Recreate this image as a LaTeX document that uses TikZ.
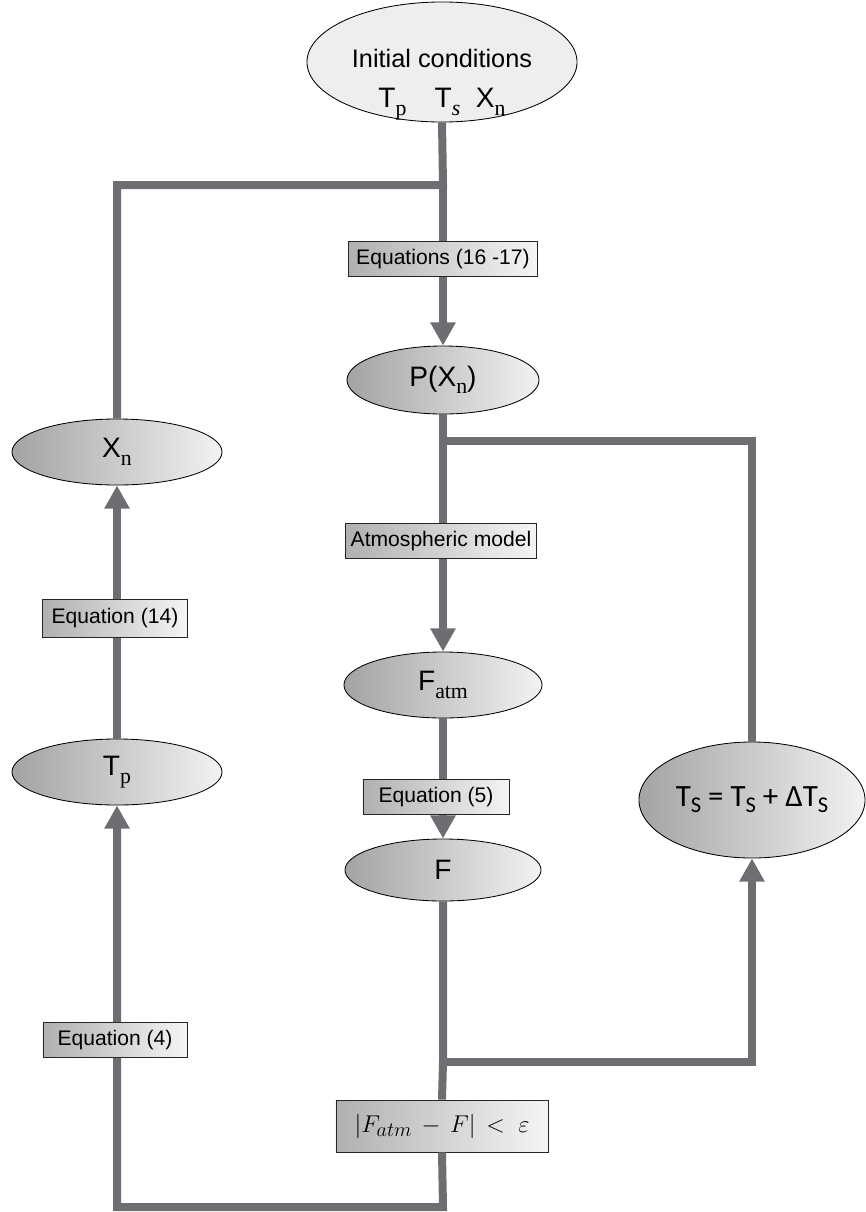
\documentclass[tikz,border=0pt]{standalone}
\usepackage{fontspec}
\setmainfont{Liberation Sans}
\newfontfamily\subfont{Liberation Serif}
\newfontfamily\calfont{Carlito}
\usetikzlibrary{shapes.geometric,arrows.meta}
\definecolor{flowgray}{RGB}{110,110,114}
\newcommand\lowidx[1]{\raisebox{-0.27em}{\subfont\fontsize{15.5}{16}\selectfont #1}}
\newcommand\calidx[1]{\raisebox{-0.2em}{\fontsize{16}{16}\selectfont #1}}
\tikzset{
  oval/.style={ellipse, draw=black, line width=0.6pt, left color=gray!72, right color=gray!10,
    inner sep=0pt, font=\fontsize{20}{24}\selectfont},
  eqbox/.style={rectangle, draw=black!85, line width=0.6pt, left color=gray!62, right color=gray!8,
    minimum height=0.87cm, inner xsep=4pt, font=\fontsize{15}{18}\selectfont},
  flow/.style={draw=flowgray, line width=0.2cm, line join=miter},
  flowarrow/.style={flow, -{Triangle[length=0.58cm,width=0.6cm]}}
}
\begin{document}
\begin{tikzpicture}[x=0.025cm,y=-0.025cm]
      \useasboundingbox (0,0) rectangle (866,1212);

      \node[ellipse, draw=black, line width=0.6pt, fill=gray!13, minimum width=6.75cm, minimum height=3cm,
        inner sep=0pt, font=\fontsize{18}{30}\selectfont] (init) at (442,62)
        {\smash{\raisebox{-0.58cm}{\begin{tabular}{@{}c@{}}Initial conditions\\[-1pt]
          {\fontsize{20}{24}\selectfont T\lowidx{p}\quad T\lowidx{\itshape s}\ \ X\lowidx{n}}\end{tabular}}}};
      \node[oval, minimum width=4.8cm, minimum height=1.7cm] (pxn) at (443,380) {P(X\lowidx{n})};
      \node[oval, minimum width=5.25cm, minimum height=1.65cm] (xn) at (117,452) {X\lowidx{n}};
      \node[oval, minimum width=4.95cm, minimum height=1.65cm] (fatm) at (443,685) {F\lowidx{atm}};
      \node[oval, minimum width=5.25cm, minimum height=1.65cm] (tp) at (117,772) {T\lowidx{p}};
      \node[oval, minimum width=4.9cm, minimum height=1.55cm] (f) at (443,870) {F};
      \node[oval, minimum width=5.65cm, minimum height=2.9cm, font=\calfont\fontsize{22}{26}\selectfont] (ts) at (752,800)
        {T\calidx{S} =\ T\calidx{S} + ΔT\calidx{S}};
      \node[eqbox, minimum width=5.3cm, minimum height=1.3cm, font=\fontsize{19}{23}\selectfont] (cond) at (442,1126)
        {$|F_{atm}\,-\,F|\,<\;\varepsilon$};

      \coordinate (top-split) at (443,185);
      \coordinate (top-left) at (117,185);
      \coordinate (mid-split) at (443,441);
      \coordinate (mid-right) at (752,441);
      \coordinate (low-split) at (443,1062);
      \coordinate (low-right) at (752,1062);
      \coordinate (bot-mid) at (443,1207);
      \coordinate (bot-left) at (117,1207);

      \draw[flow] (init.south) -- (top-split) -- (top-left) -- (xn.north);
      \draw[flowarrow] (top-split) -- (pxn.north);
      \draw[flow] (pxn.south) -- (mid-split) -- (mid-right) -- (ts.north);
      \draw[flowarrow] (mid-split) -- (fatm.north);
      \draw[flowarrow] (fatm.south) -- (f.north);
      \draw[flow] (f.south) -- (low-split) -- (cond.north);
      \draw[flowarrow] (low-split) -- (low-right) -- (ts.south);
      \draw[flowarrow] (cond.south) -- (bot-mid) -- (bot-left) -- (tp.south);
      \draw[flowarrow] (tp.north) -- (xn.south);

      \node[eqbox, minimum width=4.72cm] (eq-16-17) at (443,259) {Equations (16 -17)};
      \node[eqbox, minimum width=4.72cm] (eq-atm) at (441,541) {Atmospheric model};
      \node[eqbox, minimum width=3.65cm] (eq-5) at (436,797) {Equation (5)};
      \node[eqbox, minimum width=3.62cm, minimum height=0.95cm] (eq-14) at (115,618) {Equation (14)};
      \node[eqbox, minimum width=3.6cm] (eq-4) at (115,1040) {Equation (4)};
    \end{tikzpicture}
\end{document}
